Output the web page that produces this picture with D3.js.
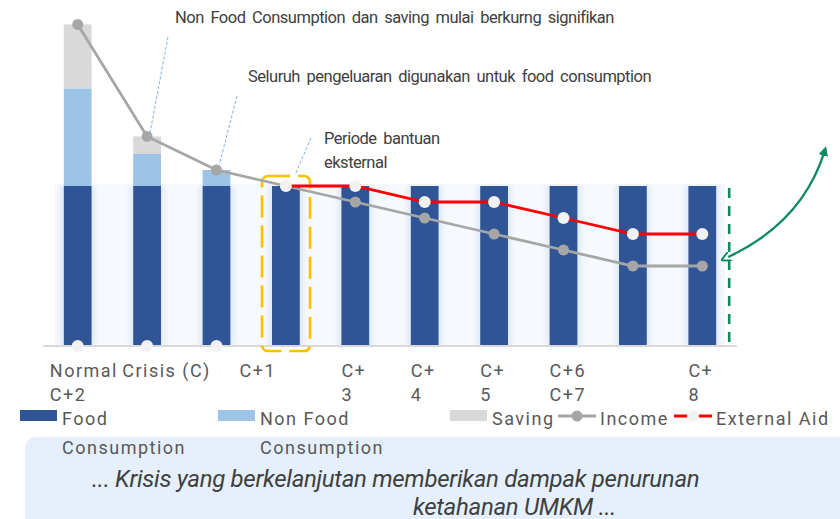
<!DOCTYPE html>
<html>
<head>
<meta charset="utf-8">
<script src="https://cdn.jsdelivr.net/npm/d3@7/dist/d3.min.js"></script>
<style>
  body { margin: 0; background: #fff; }
  svg { display: block; }
</style>
</head>
<body>
<div id="chart"></div>
<script>
// Chart data
const categories = ["Normal", "Crisis (C)", "C+1", "C+2", "C+3", "C+4", "C+5", "C+6", "C+7", "C+8"];
const food = [100, 100, 100, 100, 100, 100, 100, 100, 100, 100];
const nonFood = [61, 20, 10, 0, 0, 0, 0, 0, 0, 0];
const saving = [40, 11, 0, 0, 0, 0, 0, 0, 0, 0];
const income = [201, 131, 110, 100, 90, 80, 70, 60, 50, 50];
const externalAid = [0, 0, 0, 100, 100, 90, 90, 80, 70, 70];

// tick labels as they come out wrapped in the original
const tickLabels = [["Normal", "C+2"], ["Crisis (C)"], ["C+1"], [], ["C+", "3"], ["C+", "4"], ["C+", "5"], ["C+6", "C+7"], [], ["C+", "8"]];
const tickShift = [-14, -11, 37, 0, 0, 0, 0, 0, 0, 0];

const legendItems = [
  { name: ["Food", "Consumption"], type: "rect", color: "#2f5597" },
  { name: ["Non Food", "Consumption"], type: "rect", color: "#9dc3e6" },
  { name: ["Saving"], type: "rect", color: "#d9d9d9" },
  { name: ["Income"], type: "income" },
  { name: ["External Aid"], type: "aid" }
];

const notes = [
  "Non Food Consumption dan saving mulai berkurng signifikan",
  "Seluruh pengeluaran digunakan untuk food consumption",
  "Periode bantuan",
  "eksternal"
];
const summary = ["... Krisis yang berkelanjutan memberikan dampak penurunan", "ketahanan UMKM ..."];

const width = 840, height = 519;
const colors = { food: "#2f5597", nonFood: "#9dc3e6", saving: "#d9d9d9" };

const svg = d3.select("#chart").append("svg")
    .attr("width", width)
    .attr("height", height)
    .style("font-family", "Roboto, sans-serif");

const defs = svg.append("defs");
defs.append("filter").attr("id", "glow").attr("x", "-50%").attr("width", "200%")
    .append("feGaussianBlur").attr("stdDeviation", 2.2);
defs.append("marker").attr("id", "headEnd")
    .attr("viewBox", "0 0 10 10").attr("refX", 6).attr("refY", 5)
    .attr("markerWidth", 4).attr("markerHeight", 4).attr("orient", "auto")
    .append("path").attr("d", "M0,0 L10,5 L0,10 Z").attr("fill", "#0b8a62");
defs.append("marker").attr("id", "headStart")
    .attr("viewBox", "0 0 10 10").attr("refX", 2).attr("refY", 5)
    .attr("markerWidth", 4).attr("markerHeight", 4).attr("orient", "auto-start-reverse")
    .append("path").attr("d", "M0,0 L10,5 L0,10").attr("fill", "none")
    .attr("stroke", "#0b8a62").attr("stroke-width", 2);

// scales
const x = d3.scaleBand().domain(categories).range([43, 737]).paddingInner(0.6).paddingOuter(0.3);
const y = d3.scaleLinear().domain([0, 100]).range([346, 186]);
const bw = x.bandwidth();
const cx = d => x(d) + bw / 2;

const rows = categories.map((c, i) => ({ cat: c, food: food[i], nonFood: nonFood[i], saving: saving[i] }));
const stack = d3.stack().keys(["food", "nonFood", "saving"])(rows);

// light plot background with soft glow round the bars
svg.append("rect")
    .attr("x", x(categories[0]) - 9)
    .attr("y", y(100) - 2)
    .attr("width", x(categories[categories.length - 1]) + bw + 9 - (x(categories[0]) - 9))
    .attr("height", y(0) - y(100) + 2)
    .attr("fill", "#f6f9fe");

svg.append("g").selectAll("rect")
    .data(rows)
    .enter().append("rect")
    .attr("x", d => x(d.cat) - 4)
    .attr("y", y(100))
    .attr("width", bw + 8)
    .attr("height", y(0) - y(100))
    .attr("fill", "#c9daf0")
    .attr("opacity", 0.45)
    .attr("filter", "url(#glow)");

// stacked bars
svg.append("g").selectAll("g")
    .data(stack)
    .enter().append("g")
    .attr("fill", d => colors[d.key])
    .selectAll("rect")
    .data(d => d)
    .enter().append("rect")
    .attr("x", d => x(d.data.cat))
    .attr("y", d => y(d[1]))
    .attr("width", bw)
    .attr("height", d => y(d[0]) - y(d[1]));

// baseline
svg.append("line")
    .attr("x1", 43).attr("x2", 737)
    .attr("y1", y(0)).attr("y2", y(0))
    .attr("stroke", "#d9d9d9").attr("stroke-width", 2);

// dashed frame round the external aid period
svg.append("rect")
    .attr("x", x("C+2") - 10)
    .attr("y", 176)
    .attr("width", 48)
    .attr("height", 175)
    .attr("rx", 6)
    .attr("fill", "none")
    .attr("stroke", "#ffc000")
    .attr("stroke-width", 2.7)
    .attr("stroke-dasharray", "22 8");

// income line
const line = d3.line().x(d => cx(d.cat)).y(d => y(d.v));
const incomeData = categories.map((c, i) => ({ cat: c, v: income[i] }));
const aidData = categories.map((c, i) => ({ cat: c, v: externalAid[i] }));

svg.append("path")
    .attr("d", line(incomeData))
    .attr("fill", "none").attr("stroke", "#a6a6a6").attr("stroke-width", 2.8);
svg.append("g").selectAll("circle")
    .data(incomeData)
    .enter().append("circle")
    .attr("cx", d => cx(d.cat)).attr("cy", d => y(d.v)).attr("r", 5.5)
    .attr("fill", "#a6a6a6");

// external aid line
svg.append("path")
    .attr("d", line.defined(d => d.v > 0)(aidData))
    .attr("fill", "none").attr("stroke", "#ff0000").attr("stroke-width", 2.8);
svg.append("g").selectAll("circle")
    .data(aidData)
    .enter().append("circle")
    .attr("cx", d => cx(d.cat)).attr("cy", d => y(d.v)).attr("r", 6)
    .attr("fill", "#f2f2f2");

// green dashed end line and arrow
const endX = x(categories[categories.length - 1]) + bw + 13;
svg.append("line")
    .attr("x1", endX).attr("x2", endX)
    .attr("y1", 188).attr("y2", 342)
    .attr("stroke", "#0b8a62").attr("stroke-width", 2.6)
    .attr("stroke-dasharray", "10 8");
svg.append("path")
    .attr("d", `M${endX - 1},257 Q803,222 825,150`)
    .attr("fill", "none").attr("stroke", "#0b8a62").attr("stroke-width", 2.4)
    .attr("marker-start", "url(#headStart)")
    .attr("marker-end", "url(#headEnd)");

// tick labels
const ticks = svg.append("g")
    .attr("fill", "#595959").style("font-size", "18px").style("letter-spacing", "1.5px");
tickLabels.forEach((lines, i) => {
    lines.forEach((t, j) => {
        ticks.append("text")
            .attr("x", x(categories[i]) + tickShift[i])
            .attr("y", 377 + j * 24)
            .text(t);
    });
});

// summary box
svg.append("rect")
    .attr("x", 25).attr("y", 437)
    .attr("width", 840).attr("height", 120)
    .attr("rx", 11)
    .attr("fill", "#e5f0fc");

svg.append("g")
    .attr("fill", "#404040")
    .style("font-size", "24px").style("font-style", "italic").style("letter-spacing", "-0.3px")
    .selectAll("text")
    .data(summary)
    .enter().append("text")
    .attr("x", (d, i) => i === 0 ? 92 : 413)
    .attr("y", (d, i) => 487 + i * 28)
    .text(d => d);

// legend
const legendX = [20, 218, 450, 558, 674];
const legend = svg.append("g").style("font-size", "18px").style("letter-spacing", "1.5px");
legendItems.forEach((item, i) => {
    const g = legend.append("g").attr("transform", `translate(${legendX[i]},0)`);
    if (item.type === "rect") {
        g.append("rect").attr("x", 0).attr("y", 410).attr("width", 37).attr("height", 11).attr("fill", item.color);
    } else if (item.type === "income") {
        g.append("line").attr("x1", 0).attr("x2", 38).attr("y1", 416).attr("y2", 416)
            .attr("stroke", "#a6a6a6").attr("stroke-width", 3);
        g.append("circle").attr("cx", 19).attr("cy", 416).attr("r", 5.5).attr("fill", "#a6a6a6");
    } else {
        g.append("line").attr("x1", 0).attr("x2", 38).attr("y1", 416).attr("y2", 416)
            .attr("stroke", "#ff0000").attr("stroke-width", 3);
        g.append("circle").attr("cx", 19).attr("cy", 416).attr("r", 6).attr("fill", "#f2f2f2");
    }
    item.name.forEach((t, j) => {
        g.append("text").attr("x", 42).attr("y", 425 + j * 29).attr("fill", "#595959").text(t);
    });
});

// annotations with thin leader lines
const ann = svg.append("g").attr("fill", "#404040")
    .style("font-size", "16.5px").style("letter-spacing", "-0.5px").style("word-spacing", "3px");
ann.append("text").attr("x", 175).attr("y", 23).text(notes[0]);
ann.append("text").attr("x", 248).attr("y", 82).text(notes[1]);
ann.append("text").attr("x", 324).attr("y", 144).text(notes[2]);
ann.append("text").attr("x", 324).attr("y", 168).text(notes[3]);

const leaders = [
    [[168, 37], [cx("Crisis (C)") + 3, y(income[1]) - 4]],
    [[237, 96], [cx("C+1") + 3, y(income[2]) - 6]],
    [[311, 138], [cx("C+2") + 9, y(externalAid[3]) - 11]]
];
svg.append("g").selectAll("line")
    .data(leaders)
    .enter().append("line")
    .attr("x1", d => d[0][0]).attr("y1", d => d[0][1])
    .attr("x2", d => d[1][0]).attr("y2", d => d[1][1])
    .attr("stroke", "#5b9bd5").attr("stroke-width", 0.8)
    .attr("stroke-dasharray", "3 2");
</script>
</body>
</html>
